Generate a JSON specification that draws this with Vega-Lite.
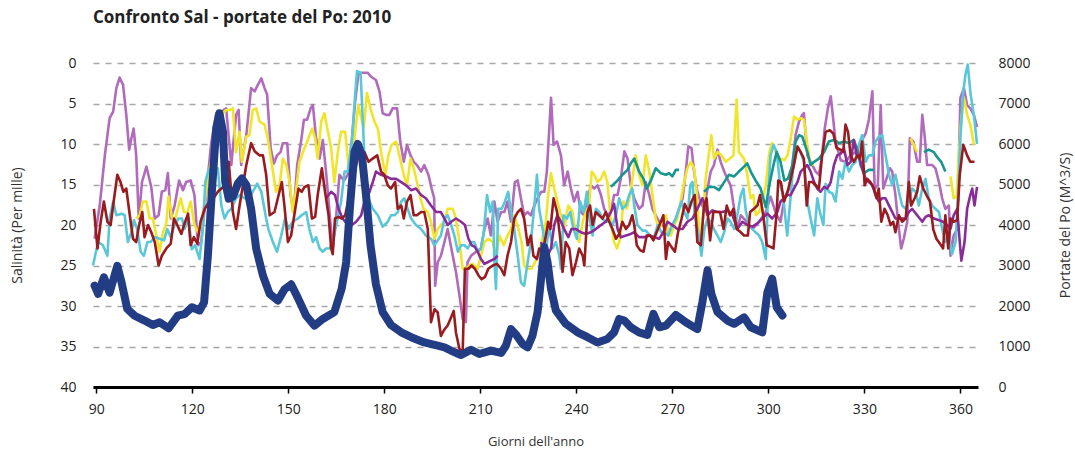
{
"$schema": "https://vega.github.io/schema/vega-lite/v6.json",
"width": 885, "height": 324,
"autosize": {"type": "none"},
"padding": {"left": 93, "top": 63, "right": 97, "bottom": 64},
"background": "white",
"config": {"view": {"stroke": null}, "font": "Open Sans"},
"title": {"text": "Confronto Sal - portate del Po: 2010", "anchor": "start", "frame": "group", "fontSize": 17, "fontWeight": "bold", "font": "Open Sans", "color": "#222222", "offset": 29},
"datasets": {
"sal": [
{"s":"L","d":89.5,"v":21.7},{"s":"L","d":91.1,"v":17.6},{"s":"L","d":92.7,"v":11.4},{"s":"L","d":94.2,"v":6.8},{"s":"L","d":95.3,"v":6.0},{"s":"L","d":96.3,"v":3.1},{"s":"L","d":97.3,"v":1.8},{"s":"L","d":98.4,"v":2.7},{"s":"L","d":99.4,"v":6.4},{"s":"L","d":100.3,"v":10.7},{"s":"L","d":101.0,"v":9.3},{"s":"L","d":101.7,"v":8.1},{"s":"L","d":102.5,"v":11.4},{"s":"L","d":103.3,"v":19.2},{"s":"L","d":104.3,"v":14.7},{"s":"L","d":105.7,"v":12.8},{"s":"L","d":107.2,"v":15.3},{"s":"L","d":108.3,"v":19.2},{"s":"L","d":109.5,"v":18.8},{"s":"L","d":110.5,"v":15.9},{"s":"L","d":111.6,"v":15.7},{"s":"L","d":112.4,"v":13.6},{"s":"L","d":113.3,"v":19.2},{"s":"L","d":114.5,"v":17.6},{"s":"L","d":115.9,"v":14.5},{"s":"L","d":117.1,"v":15.7},{"s":"L","d":118.1,"v":14.7},{"s":"L","d":119.5,"v":14.5},{"s":"L","d":120.7,"v":16.3},{"s":"L","d":121.8,"v":22.5},{"s":"L","d":122.8,"v":22.1},{"s":"L","d":124.4,"v":16},{"s":"L","d":125.9,"v":10},{"s":"L","d":127.5,"v":6.2},{"s":"L","d":129.1,"v":6.0},{"s":"L","d":130.6,"v":5.6},{"s":"L","d":132.2,"v":12.6},{"s":"L","d":133.7,"v":6.4},{"s":"L","d":134.5,"v":5.8},{"s":"L","d":135.3,"v":12.6},{"s":"L","d":136.9,"v":8.9},{"s":"L","d":138.4,"v":3.1},{"s":"L","d":139.5,"v":3.5},{"s":"L","d":140.5,"v":2.7},{"s":"L","d":141.6,"v":1.9},{"s":"L","d":142.6,"v":3.1},{"s":"L","d":143.4,"v":3.9},{"s":"L","d":144.5,"v":10.5},{"s":"L","d":145.5,"v":12.4},{"s":"L","d":146.5,"v":11.4},{"s":"L","d":147.6,"v":11.0},{"s":"L","d":148.3,"v":9.9},{"s":"L","d":149.7,"v":9.9},{"s":"L","d":150.7,"v":16.3},{"s":"L","d":151.7,"v":18.4},{"s":"L","d":152.8,"v":12.6},{"s":"L","d":154.0,"v":9.7},{"s":"L","d":154.9,"v":7.0},{"s":"L","d":155.9,"v":7.0},{"s":"L","d":157.0,"v":5.6},{"s":"L","d":157.7,"v":5.2},{"s":"L","d":158.7,"v":9.3},{"s":"L","d":159.8,"v":11.8},{"s":"L","d":160.8,"v":9.5},{"s":"L","d":161.8,"v":13.4},{"s":"L","d":162.9,"v":18.4},{"s":"L","d":163.9,"v":22.9},{"s":"L","d":165.0,"v":18.8},{"s":"L","d":166.0,"v":13.8},{"s":"L","d":167.4,"v":14.5},{"s":"L","d":168.6,"v":13.8},{"s":"L","d":169.9,"v":9.3},{"s":"L","d":170.9,"v":4.8},{"s":"L","d":171.9,"v":1.4},{"s":"L","d":173.0,"v":1.2},{"s":"L","d":173.8,"v":1.2},{"s":"L","d":174.8,"v":1.2},{"s":"L","d":175.9,"v":1.7},{"s":"L","d":177.4,"v":2.1},{"s":"L","d":178.5,"v":3.5},{"s":"L","d":179.5,"v":6.2},{"s":"L","d":180.6,"v":6.4},{"s":"L","d":181.6,"v":6.4},{"s":"L","d":182.6,"v":5.6},{"s":"L","d":184.0,"v":5.6},{"s":"L","d":185.0,"v":9.7},{"s":"L","d":186.1,"v":12.2},{"s":"L","d":187.1,"v":10.1},{"s":"L","d":188.2,"v":11.4},{"s":"L","d":189.2,"v":12.2},{"s":"L","d":190.2,"v":12.6},{"s":"L","d":191.5,"v":13.4},{"s":"L","d":192.5,"v":12.6},{"s":"L","d":193.8,"v":13.8},{"s":"L","d":194.8,"v":15.5},{"s":"L","d":195.6,"v":16.7},{"s":"L","d":195.9,"v":27.5},{"s":"L","d":196.7,"v":24.6},{"s":"L","d":197.7,"v":23.8},{"s":"L","d":198.8,"v":22.1},{"s":"L","d":199.8,"v":20.5},{"s":"L","d":201.4,"v":23.8},{"s":"L","d":202.4,"v":25.8},{"s":"L","d":203.5,"v":28.7},{"s":"L","d":204.5,"v":31.6},{"s":"L","d":205.5,"v":32.0},{"s":"L","d":206.0,"v":24.6},{"s":"L","d":207.1,"v":23.8},{"s":"L","d":208.7,"v":23.3},{"s":"L","d":210.2,"v":22.9},{"s":"L","d":211.3,"v":20.5},{"s":"L","d":212.3,"v":19.2},{"s":"L","d":213.3,"v":21.3},{"s":"L","d":214.4,"v":17.1},{"s":"L","d":215.4,"v":19.6},{"s":"L","d":216.5,"v":18.4},{"s":"L","d":217.5,"v":18.4},{"s":"L","d":218.5,"v":17.1},{"s":"L","d":219.6,"v":19.6},{"s":"L","d":220.8,"v":14.7},{"s":"L","d":221.7,"v":14.5},{"s":"L","d":222.7,"v":16.7},{"s":"L","d":223.7,"v":18.8},{"s":"L","d":224.8,"v":18.4},{"s":"L","d":225.8,"v":18.8},{"s":"L","d":226.9,"v":17.6},{"s":"L","d":227.9,"v":16.7},{"s":"L","d":229.0,"v":15.9},{"s":"L","d":230.0,"v":15.9},{"s":"L","d":230.8,"v":13.4},{"s":"L","d":231.5,"v":8.5},{"s":"L","d":232.1,"v":4.3},{"s":"L","d":232.9,"v":10.1},{"s":"L","d":234.0,"v":9.7},{"s":"L","d":235.2,"v":11.4},{"s":"L","d":236.2,"v":15.1},{"s":"L","d":237.3,"v":13.4},{"s":"L","d":238.3,"v":15.5},{"s":"L","d":239.3,"v":17.1},{"s":"L","d":240.4,"v":15.9},{"s":"L","d":241.4,"v":18.4},{"s":"L","d":242.5,"v":18.8},{"s":"L","d":243.5,"v":17.1},{"s":"L","d":244.5,"v":15.1},{"s":"L","d":245.6,"v":15.5},{"s":"L","d":246.6,"v":15.1},{"s":"L","d":247.7,"v":16.3},{"s":"L","d":248.7,"v":18.0},{"s":"L","d":249.7,"v":18.8},{"s":"L","d":250.8,"v":18.4},{"s":"L","d":251.8,"v":16.3},{"s":"L","d":252.9,"v":16.3},{"s":"L","d":253.9,"v":14.3},{"s":"L","d":255.0,"v":10.9},{"s":"L","d":256.0,"v":11.8},{"s":"L","d":257.0,"v":15.1},{"s":"L","d":258.1,"v":16.7},{"s":"L","d":259.6,"v":18.0},{"s":"L","d":260.7,"v":17.6},{"s":"L","d":261.7,"v":14.7},{"s":"L","d":262.8,"v":16.3},{"s":"L","d":263.8,"v":18.0},{"s":"L","d":264.8,"v":18.8},{"s":"L","d":265.9,"v":19.6},{"s":"L","d":267.0,"v":20.0},{"s":"L","d":268.0,"v":20.5},{"s":"L","d":269.0,"v":20.9},{"s":"L","d":270.0,"v":20.0},{"s":"L","d":271.1,"v":19.2},{"s":"L","d":272.1,"v":18.0},{"s":"L","d":273.2,"v":16.7},{"s":"L","d":274.2,"v":13.4},{"s":"L","d":275.0,"v":10.3},{"s":"L","d":276.0,"v":10.5},{"s":"L","d":276.8,"v":13.4},{"s":"L","d":277.6,"v":15.5},{"s":"L","d":278.7,"v":17.1},{"s":"L","d":279.9,"v":18.0},{"s":"L","d":281.0,"v":15.5},{"s":"L","d":282.0,"v":13.4},{"s":"L","d":283.0,"v":12.6},{"s":"L","d":284.1,"v":10.7},{"s":"L","d":285.1,"v":12.2},{"s":"L","d":286.2,"v":13.4},{"s":"L","d":287.2,"v":14.3},{"s":"L","d":288.2,"v":15.1},{"s":"L","d":289.3,"v":18.0},{"s":"L","d":290.3,"v":20.5},{"s":"L","d":291.4,"v":18.8},{"s":"L","d":293.0,"v":19.5},{"s":"L","d":295.0,"v":20.5},{"s":"L","d":297.1,"v":19.6},{"s":"L","d":299.2,"v":18.4},{"s":"L","d":300.7,"v":16.5},{"s":"L","d":302.3,"v":18.5},{"s":"L","d":303.8,"v":19.6},{"s":"L","d":305.0,"v":16.7},{"s":"L","d":306.5,"v":15.5},{"s":"L","d":307.5,"v":12.6},{"s":"L","d":308.5,"v":8.9},{"s":"L","d":309.6,"v":7.2},{"s":"L","d":310.6,"v":6.4},{"s":"L","d":311.1,"v":6.2},{"s":"L","d":312.2,"v":11.4},{"s":"L","d":313.2,"v":12.2},{"s":"L","d":314.8,"v":13.4},{"s":"L","d":315.8,"v":13.8},{"s":"L","d":316.8,"v":11.4},{"s":"L","d":317.6,"v":8.1},{"s":"L","d":318.6,"v":5.6},{"s":"L","d":319.5,"v":4.1},{"s":"L","d":321.0,"v":9.7},{"s":"L","d":322.6,"v":12.0},{"s":"L","d":324.1,"v":12.2},{"s":"L","d":325.7,"v":11.4},{"s":"L","d":327.3,"v":11.0},{"s":"L","d":328.8,"v":9.9},{"s":"L","d":330.4,"v":8.7},{"s":"L","d":331.4,"v":7.0},{"s":"L","d":332.5,"v":3.5},{"s":"L","d":333.2,"v":15.5},{"s":"L","d":334.2,"v":15.1},{"s":"L","d":335.1,"v":5.2},{"s":"L","d":335.9,"v":15.5},{"s":"L","d":336.9,"v":14.3},{"s":"L","d":338.0,"v":13.0},{"s":"L","d":338.7,"v":13.4},{"s":"L","d":339.7,"v":16.3},{"s":"L","d":340.8,"v":20.5},{"s":"L","d":341.5,"v":22.9},{"s":"L","d":342.3,"v":21.7},{"s":"L","d":343.4,"v":19.6},{"s":"L","d":344.2,"v":9.3},{"s":"L","d":345.3,"v":9.7},{"s":"L","d":346.5,"v":12.2},{"s":"L","d":347.3,"v":12.2},{"s":"L","d":348.1,"v":6.4},{"s":"L","d":348.8,"v":8.9},{"s":"L","d":349.6,"v":12.6},{"s":"L","d":351.2,"v":12.6},{"s":"L","d":352.2,"v":13.0},{"s":"L","d":353.3,"v":14.7},{"s":"L","d":354.3,"v":16.7},{"s":"L","d":355.3,"v":18.0},{"s":"L","d":356.4,"v":17.6},{"s":"L","d":356.9,"v":23.8},{"s":"L","d":357.9,"v":21.3},{"s":"L","d":359.0,"v":20.5},{"s":"L","d":360.0,"v":4.3},{"s":"L","d":361.1,"v":3.1},{"s":"L","d":362.1,"v":5.2},{"s":"L","d":363.1,"v":5.6},{"s":"L","d":364.2,"v":6.4},{"s":"L","d":365.2,"v":7.9},
{"s":"Y","d":102.5,"v":19.2},{"s":"Y","d":103.6,"v":18.8},{"s":"Y","d":104.6,"v":17.1},{"s":"Y","d":105.7,"v":17.1},{"s":"Y","d":106.7,"v":19.2},{"s":"Y","d":107.7,"v":19.2},{"s":"Y","d":108.8,"v":21.3},{"s":"Y","d":109.8,"v":23.3},{"s":"Y","d":110.9,"v":20.9},{"s":"Y","d":111.9,"v":19.8},{"s":"Y","d":112.6,"v":16.5},{"s":"Y","d":113.7,"v":19.2},{"s":"Y","d":114.7,"v":19.2},{"s":"Y","d":116.4,"v":16.7},{"s":"Y","d":117.4,"v":18.4},{"s":"Y","d":118.5,"v":18.4},{"s":"Y","d":119.5,"v":17.1},{"s":"Y","d":120.7,"v":20.0},{"s":"Y","d":121.8,"v":20.9},{"s":"Y","d":122.8,"v":20.0},{"s":"Y","d":123.9,"v":17.1},{"s":"Y","d":125.1,"v":13.8},{"s":"Y","d":126.5,"v":11.0},{"s":"Y","d":128.0,"v":8.0},{"s":"Y","d":129.6,"v":6.2},{"s":"Y","d":130.6,"v":5.8},{"s":"Y","d":131.7,"v":5.8},{"s":"Y","d":132.7,"v":5.6},{"s":"Y","d":133.7,"v":11.0},{"s":"Y","d":134.8,"v":8.5},{"s":"Y","d":135.5,"v":12.2},{"s":"Y","d":136.9,"v":9.1},{"s":"Y","d":137.9,"v":8.9},{"s":"Y","d":138.9,"v":5.8},{"s":"Y","d":140.0,"v":5.6},{"s":"Y","d":141.0,"v":7.2},{"s":"Y","d":142.6,"v":7.6},{"s":"Y","d":143.6,"v":9.3},{"s":"Y","d":144.9,"v":12.6},{"s":"Y","d":146.2,"v":15.9},{"s":"Y","d":147.3,"v":15.1},{"s":"Y","d":148.3,"v":11.8},{"s":"Y","d":149.4,"v":12.6},{"s":"Y","d":150.4,"v":14.7},{"s":"Y","d":151.4,"v":18.4},{"s":"Y","d":152.5,"v":15.5},{"s":"Y","d":153.5,"v":12.2},{"s":"Y","d":155.1,"v":10.5},{"s":"Y","d":156.3,"v":9.3},{"s":"Y","d":157.5,"v":8.1},{"s":"Y","d":158.4,"v":9.3},{"s":"Y","d":159.2,"v":11.8},{"s":"Y","d":160.3,"v":7.2},{"s":"Y","d":161.3,"v":6.2},{"s":"Y","d":162.4,"v":8.5},{"s":"Y","d":163.4,"v":10.5},{"s":"Y","d":164.4,"v":14.7},{"s":"Y","d":165.5,"v":11.0},{"s":"Y","d":166.5,"v":8.5},{"s":"Y","d":167.8,"v":8.5},{"s":"Y","d":168.8,"v":12.6},{"s":"Y","d":169.9,"v":13.4},{"s":"Y","d":170.9,"v":8.5},{"s":"Y","d":171.9,"v":5.2},{"s":"Y","d":172.8,"v":6.8},{"s":"Y","d":173.6,"v":8.0},{"s":"Y","d":174.6,"v":3.7},{"s":"Y","d":175.7,"v":5.6},{"s":"Y","d":176.9,"v":7.2},{"s":"Y","d":178.0,"v":8.1},{"s":"Y","d":179.0,"v":11.0},{"s":"Y","d":180.3,"v":13.8},{"s":"Y","d":181.3,"v":11.4},{"s":"Y","d":182.3,"v":10.1},{"s":"Y","d":183.7,"v":9.7},{"s":"Y","d":184.7,"v":11.4},{"s":"Y","d":186.1,"v":13.8},{"s":"Y","d":187.1,"v":15.1},{"s":"Y","d":188.2,"v":11.8},{"s":"Y","d":189.2,"v":13.0},{"s":"Y","d":190.2,"v":14.7},{"s":"Y","d":191.3,"v":16.7},{"s":"Y","d":192.3,"v":18.0},{"s":"Y","d":193.6,"v":18.4},{"s":"Y","d":194.6,"v":19.6},{"s":"Y","d":195.7,"v":21.7},{"s":"Y","d":196.7,"v":20.5},{"s":"Y","d":197.7,"v":20.0},{"s":"Y","d":198.8,"v":19.6},{"s":"Y","d":199.8,"v":18.0},{"s":"Y","d":201.4,"v":18.0},{"s":"Y","d":202.4,"v":19.2},{"s":"Y","d":203.5,"v":22.1},{"s":"Y","d":204.5,"v":25.4},{"s":"Y","d":205.5,"v":25.4},{"s":"Y","d":206.6,"v":25.0},{"s":"Y","d":207.6,"v":24.8},{"s":"Y","d":209.2,"v":25.4},{"s":"Y","d":210.2,"v":23.8},{"s":"Y","d":211.3,"v":22.1},{"s":"Y","d":212.5,"v":21.7},{"s":"Y","d":213.9,"v":22.1},{"s":"Y","d":214.9,"v":23.8},{"s":"Y","d":216.0,"v":21.3},{"s":"Y","d":217.3,"v":22.5},{"s":"Y","d":218.5,"v":21.3},{"s":"Y","d":219.6,"v":20.5},{"s":"Y","d":220.6,"v":18.8},{"s":"Y","d":221.9,"v":20.5},{"s":"Y","d":222.9,"v":22.1},{"s":"Y","d":223.7,"v":25.0},{"s":"Y","d":224.8,"v":25.4},{"s":"Y","d":226.0,"v":25.4},{"s":"Y","d":227.1,"v":24.6},{"s":"Y","d":228.1,"v":23.8},{"s":"Y","d":229.1,"v":22.1},{"s":"Y","d":230.5,"v":19.6},{"s":"Y","d":231.2,"v":16.3},{"s":"Y","d":232.1,"v":13.6},{"s":"Y","d":233.1,"v":15.5},{"s":"Y","d":234.1,"v":17.1},{"s":"Y","d":235.2,"v":18.8},{"s":"Y","d":236.2,"v":20.5},{"s":"Y","d":237.5,"v":17.6},{"s":"Y","d":238.8,"v":18.4},{"s":"Y","d":239.9,"v":21.3},{"s":"Y","d":240.9,"v":22.1},{"s":"Y","d":242.0,"v":19.6},{"s":"Y","d":243.0,"v":18.4},{"s":"Y","d":244.0,"v":17.6},{"s":"Y","d":244.8,"v":13.4},{"s":"Y","d":245.6,"v":13.8},{"s":"Y","d":246.6,"v":14.7},{"s":"Y","d":247.7,"v":14.3},{"s":"Y","d":248.7,"v":13.4},{"s":"Y","d":249.7,"v":14.7},{"s":"Y","d":250.8,"v":19.6},{"s":"Y","d":251.8,"v":22.1},{"s":"Y","d":252.7,"v":22.9},{"s":"Y","d":253.7,"v":21.7},{"s":"Y","d":254.7,"v":17.1},{"s":"Y","d":255.8,"v":18.0},{"s":"Y","d":256.8,"v":16.3},{"s":"Y","d":258.6,"v":11.4},{"s":"Y","d":259.6,"v":13.8},{"s":"Y","d":260.7,"v":15.1},{"s":"Y","d":261.7,"v":11.4},{"s":"Y","d":262.8,"v":13.4},{"s":"Y","d":263.8,"v":16.3},{"s":"Y","d":264.8,"v":19.2},{"s":"Y","d":265.9,"v":20.5},{"s":"Y","d":266.9,"v":19.6},{"s":"Y","d":268.0,"v":18.8},{"s":"Y","d":268.7,"v":20.9},{"s":"Y","d":269.5,"v":21.3},{"s":"Y","d":270.6,"v":20.0},{"s":"Y","d":271.6,"v":19.2},{"s":"Y","d":272.6,"v":17.1},{"s":"Y","d":273.7,"v":14.7},{"s":"Y","d":274.7,"v":13.0},{"s":"Y","d":275.8,"v":12.2},{"s":"Y","d":276.8,"v":13.0},{"s":"Y","d":277.6,"v":15.9},{"s":"Y","d":278.7,"v":22.1},{"s":"Y","d":279.4,"v":20.0},{"s":"Y","d":280.4,"v":14.3},{"s":"Y","d":281.5,"v":11.0},{"s":"Y","d":282.2,"v":8.9},{"s":"Y","d":283.0,"v":11.8},{"s":"Y","d":284.1,"v":11.0},{"s":"Y","d":285.3,"v":11.4},{"s":"Y","d":286.7,"v":12.2},{"s":"Y","d":288.0,"v":11.8},{"s":"Y","d":289.1,"v":11.4},{"s":"Y","d":290.1,"v":4.5},{"s":"Y","d":290.8,"v":11.0},{"s":"Y","d":292.4,"v":11.8},{"s":"Y","d":293.4,"v":13.8},{"s":"Y","d":294.5,"v":16.7},{"s":"Y","d":295.3,"v":16.3},{"s":"Y","d":296.1,"v":18.8},{"s":"Y","d":297.1,"v":18.4},{"s":"Y","d":298.1,"v":17.1},{"s":"Y","d":299.2,"v":15.1},{"s":"Y","d":300.3,"v":11.0},{"s":"Y","d":301.2,"v":9.9},{"s":"Y","d":302.3,"v":11.0},{"s":"Y","d":303.6,"v":11.8},{"s":"Y","d":305.0,"v":12.0},{"s":"Y","d":306.0,"v":11.4},{"s":"Y","d":307.0,"v":9.3},{"s":"Y","d":308.0,"v":6.6},{"s":"Y","d":309.1,"v":7.0},{"s":"Y","d":310.1,"v":6.8},{"s":"Y","d":311.1,"v":7.0},{"s":"Y","d":312.2,"v":10.1},{"s":"Y","d":313.2,"v":12.6},{"s":"Y","d":314.3,"v":12.5},{"s":"Y","d":315.0,"v":null},{"s":"Y","d":344.4,"v":9.3},{"s":"Y","d":346.5,"v":11.0},{"s":"Y","d":347.0,"v":null},{"s":"Y","d":356.9,"v":14.0},{"s":"Y","d":357.9,"v":16.7},{"s":"Y","d":358.8,"v":16.5},{"s":"Y","d":359.5,"v":11.4},{"s":"Y","d":360.2,"v":7.2},{"s":"Y","d":361.1,"v":4.3},{"s":"Y","d":362.1,"v":6.4},{"s":"Y","d":363.1,"v":7.6},{"s":"Y","d":364.2,"v":10.1},
{"s":"C","d":89.0,"v":25.0},{"s":"C","d":90.6,"v":22.1},{"s":"C","d":92.1,"v":22.5},{"s":"C","d":93.5,"v":23.8},{"s":"C","d":94.2,"v":19.2},{"s":"C","d":95.3,"v":17.1},{"s":"C","d":96.3,"v":18.8},{"s":"C","d":97.9,"v":18.6},{"s":"C","d":98.9,"v":18.8},{"s":"C","d":99.9,"v":22.1},{"s":"C","d":101.0,"v":20.9},{"s":"C","d":101.8,"v":19.4},{"s":"C","d":102.8,"v":20.5},{"s":"C","d":103.9,"v":23.3},{"s":"C","d":104.9,"v":23.8},{"s":"C","d":106.0,"v":22.1},{"s":"C","d":107.0,"v":22.1},{"s":"C","d":108.3,"v":21.5},{"s":"C","d":109.8,"v":21.7},{"s":"C","d":111.2,"v":21.9},{"s":"C","d":112.2,"v":20.5},{"s":"C","d":113.3,"v":21.5},{"s":"C","d":114.5,"v":20.0},{"s":"C","d":115.7,"v":19.2},{"s":"C","d":116.8,"v":19.2},{"s":"C","d":117.6,"v":20.5},{"s":"C","d":118.9,"v":19.2},{"s":"C","d":119.9,"v":23.0},{"s":"C","d":120.9,"v":22.5},{"s":"C","d":122.3,"v":24.2},{"s":"C","d":123.3,"v":20.5},{"s":"C","d":124.1,"v":14.7},{"s":"C","d":125.1,"v":13.2},{"s":"C","d":126.5,"v":13.0},{"s":"C","d":128.0,"v":13.0},{"s":"C","d":129.1,"v":17.6},{"s":"C","d":130.1,"v":19.2},{"s":"C","d":131.1,"v":18.4},{"s":"C","d":132.2,"v":18.0},{"s":"C","d":133.7,"v":16.7},{"s":"C","d":134.8,"v":16.3},{"s":"C","d":136.3,"v":16.7},{"s":"C","d":137.9,"v":16.7},{"s":"C","d":138.9,"v":15.9},{"s":"C","d":140.3,"v":14.9},{"s":"C","d":141.6,"v":15.9},{"s":"C","d":143.1,"v":19.2},{"s":"C","d":143.8,"v":20.5},{"s":"C","d":145.2,"v":22.1},{"s":"C","d":146.5,"v":23.3},{"s":"C","d":147.8,"v":21.3},{"s":"C","d":149.0,"v":19.2},{"s":"C","d":150.1,"v":20.5},{"s":"C","d":151.4,"v":19.6},{"s":"C","d":153.0,"v":19.2},{"s":"C","d":154.2,"v":18.8},{"s":"C","d":155.6,"v":18.4},{"s":"C","d":156.6,"v":20.5},{"s":"C","d":157.7,"v":22.1},{"s":"C","d":158.7,"v":21.5},{"s":"C","d":159.8,"v":22.9},{"s":"C","d":160.8,"v":23.3},{"s":"C","d":161.8,"v":22.9},{"s":"C","d":162.9,"v":22.9},{"s":"C","d":163.9,"v":22.1},{"s":"C","d":165.0,"v":20.0},{"s":"C","d":166.5,"v":17.1},{"s":"C","d":167.6,"v":13.4},{"s":"C","d":168.6,"v":13.4},{"s":"C","d":169.9,"v":9.7},{"s":"C","d":170.9,"v":3.9},{"s":"C","d":171.5,"v":1.0},{"s":"C","d":172.6,"v":1.2},{"s":"C","d":173.3,"v":7.2},{"s":"C","d":174.0,"v":13.4},{"s":"C","d":175.0,"v":16.7},{"s":"C","d":176.4,"v":18.0},{"s":"C","d":178.0,"v":18.8},{"s":"C","d":179.5,"v":20.2},{"s":"C","d":181.1,"v":19.6},{"s":"C","d":182.1,"v":18.8},{"s":"C","d":183.2,"v":18.8},{"s":"C","d":184.2,"v":18.4},{"s":"C","d":185.3,"v":17.1},{"s":"C","d":186.3,"v":16.7},{"s":"C","d":187.3,"v":18.0},{"s":"C","d":188.4,"v":19.2},{"s":"C","d":189.9,"v":20.0},{"s":"C","d":191.5,"v":20.5},{"s":"C","d":193.0,"v":21.3},{"s":"C","d":194.6,"v":21.7},{"s":"C","d":195.6,"v":22.5},{"s":"C","d":196.7,"v":21.9},{"s":"C","d":197.7,"v":21.3},{"s":"C","d":198.8,"v":19.2},{"s":"C","d":199.8,"v":18.8},{"s":"C","d":200.9,"v":20.0},{"s":"C","d":201.9,"v":21.3},{"s":"C","d":203.0,"v":23.3},{"s":"C","d":204.0,"v":22.5},{"s":"C","d":205.0,"v":22.5},{"s":"C","d":206.1,"v":22.9},{"s":"C","d":207.1,"v":22.1},{"s":"C","d":208.1,"v":22.1},{"s":"C","d":209.2,"v":23.3},{"s":"C","d":210.2,"v":22.9},{"s":"C","d":211.1,"v":20.9},{"s":"C","d":212.1,"v":16.3},{"s":"C","d":213.1,"v":18.4},{"s":"C","d":213.9,"v":17.1},{"s":"C","d":214.4,"v":24.2},{"s":"C","d":214.9,"v":27.9},{"s":"C","d":215.6,"v":18.0},{"s":"C","d":216.7,"v":18.0},{"s":"C","d":217.7,"v":17.1},{"s":"C","d":218.7,"v":15.9},{"s":"C","d":219.6,"v":18.4},{"s":"C","d":220.6,"v":20.5},{"s":"C","d":221.7,"v":23.8},{"s":"C","d":222.7,"v":27.1},{"s":"C","d":223.7,"v":27.5},{"s":"C","d":224.8,"v":24.6},{"s":"C","d":225.8,"v":22.1},{"s":"C","d":226.9,"v":17.6},{"s":"C","d":227.7,"v":13.8},{"s":"C","d":228.4,"v":18.0},{"s":"C","d":229.5,"v":20.5},{"s":"C","d":230.5,"v":23.3},{"s":"C","d":231.5,"v":20.0},{"s":"C","d":232.6,"v":22.9},{"s":"C","d":233.6,"v":22.1},{"s":"C","d":234.7,"v":23.8},{"s":"C","d":235.2,"v":25.4},{"s":"C","d":236.0,"v":18.8},{"s":"C","d":237.1,"v":19.2},{"s":"C","d":238.1,"v":18.4},{"s":"C","d":239.1,"v":20.5},{"s":"C","d":240.2,"v":21.7},{"s":"C","d":241.2,"v":17.1},{"s":"C","d":242.3,"v":18.4},{"s":"C","d":243.3,"v":15.9},{"s":"C","d":244.0,"v":18.8},{"s":"C","d":245.1,"v":21.3},{"s":"C","d":246.1,"v":18.0},{"s":"C","d":247.2,"v":18.4},{"s":"C","d":248.2,"v":19.2},{"s":"C","d":249.2,"v":19.6},{"s":"C","d":250.3,"v":19.6},{"s":"C","d":251.3,"v":20.0},{"s":"C","d":252.4,"v":18.8},{"s":"C","d":253.4,"v":16.7},{"s":"C","d":254.4,"v":18.0},{"s":"C","d":255.5,"v":17.6},{"s":"C","d":256.5,"v":16.3},{"s":"C","d":257.5,"v":15.5},{"s":"C","d":258.1,"v":17.6},{"s":"C","d":259.1,"v":20.0},{"s":"C","d":260.7,"v":20.7},{"s":"C","d":261.7,"v":20.7},{"s":"C","d":263.1,"v":21.3},{"s":"C","d":264.3,"v":21.5},{"s":"C","d":265.4,"v":20.0},{"s":"C","d":266.6,"v":20.9},{"s":"C","d":267.6,"v":20.9},{"s":"C","d":268.7,"v":21.3},{"s":"C","d":270.0,"v":20.0},{"s":"C","d":271.1,"v":19.2},{"s":"C","d":272.1,"v":18.0},{"s":"C","d":272.8,"v":17.1},{"s":"C","d":273.7,"v":18.4},{"s":"C","d":274.7,"v":19.2},{"s":"C","d":275.6,"v":15.1},{"s":"C","d":276.3,"v":14.7},{"s":"C","d":277.0,"v":18.8},{"s":"C","d":278.1,"v":20.9},{"s":"C","d":279.1,"v":23.8},{"s":"C","d":280.0,"v":20.5},{"s":"C","d":281.0,"v":19.2},{"s":"C","d":282.0,"v":19.6},{"s":"C","d":283.0,"v":20.5},{"s":"C","d":284.1,"v":21.3},{"s":"C","d":285.1,"v":22.1},{"s":"C","d":286.2,"v":20.9},{"s":"C","d":287.2,"v":19.2},{"s":"C","d":288.2,"v":19.6},{"s":"C","d":289.3,"v":20.5},{"s":"C","d":290.3,"v":18.8},{"s":"C","d":291.4,"v":16.3},{"s":"C","d":292.2,"v":15.5},{"s":"C","d":293.0,"v":18.4},{"s":"C","d":294.0,"v":20.0},{"s":"C","d":295.0,"v":20.5},{"s":"C","d":296.0,"v":20.9},{"s":"C","d":297.1,"v":21.3},{"s":"C","d":298.1,"v":22.1},{"s":"C","d":299.2,"v":24.2},{"s":"C","d":299.9,"v":16.3},{"s":"C","d":300.7,"v":11.4},{"s":"C","d":301.6,"v":10.1},{"s":"C","d":302.6,"v":11.0},{"s":"C","d":303.6,"v":14.7},{"s":"C","d":304.7,"v":16.7},{"s":"C","d":305.9,"v":21.3},{"s":"C","d":307.0,"v":16.3},{"s":"C","d":308.0,"v":11.8},{"s":"C","d":309.1,"v":10.5},{"s":"C","d":310.1,"v":11.0},{"s":"C","d":311.1,"v":12.2},{"s":"C","d":312.2,"v":17.1},{"s":"C","d":313.2,"v":19.2},{"s":"C","d":314.3,"v":21.3},{"s":"C","d":315.3,"v":16.7},{"s":"C","d":316.1,"v":18.4},{"s":"C","d":317.2,"v":20.0},{"s":"C","d":317.9,"v":14.9},{"s":"C","d":318.9,"v":15.9},{"s":"C","d":320.0,"v":16.1},{"s":"C","d":321.0,"v":17.1},{"s":"C","d":322.1,"v":13.4},{"s":"C","d":323.1,"v":14.3},{"s":"C","d":324.1,"v":12.2},{"s":"C","d":325.2,"v":13.4},{"s":"C","d":326.2,"v":12.6},{"s":"C","d":327.3,"v":12.2},{"s":"C","d":328.3,"v":10.1},{"s":"C","d":329.3,"v":8.9},{"s":"C","d":330.4,"v":12.2},{"s":"C","d":331.4,"v":11.4},{"s":"C","d":332.5,"v":11.4},{"s":"C","d":333.5,"v":9.7},{"s":"C","d":334.5,"v":9.1},{"s":"C","d":335.6,"v":8.9},{"s":"C","d":336.6,"v":11.4},{"s":"C","d":337.7,"v":13.8},{"s":"C","d":338.7,"v":15.1},{"s":"C","d":339.7,"v":13.8},{"s":"C","d":340.8,"v":15.9},{"s":"C","d":341.8,"v":17.6},{"s":"C","d":342.9,"v":18.0},{"s":"C","d":343.9,"v":17.1},{"s":"C","d":344.9,"v":15.5},{"s":"C","d":346.0,"v":15.9},{"s":"C","d":347.0,"v":17.6},{"s":"C","d":348.1,"v":15.5},{"s":"C","d":349.1,"v":14.3},{"s":"C","d":350.1,"v":16.7},{"s":"C","d":351.2,"v":17.6},{"s":"C","d":352.2,"v":18.0},{"s":"C","d":353.3,"v":18.4},{"s":"C","d":354.3,"v":20.5},{"s":"C","d":355.3,"v":22.1},{"s":"C","d":356.4,"v":21.3},{"s":"C","d":357.4,"v":23.6},{"s":"C","d":358.5,"v":22.1},{"s":"C","d":359.2,"v":17.1},{"s":"C","d":360.0,"v":9.3},{"s":"C","d":360.9,"v":3.5},{"s":"C","d":361.6,"v":1.4},{"s":"C","d":362.3,"v":0.2},{"s":"C","d":363.2,"v":3.9},{"s":"C","d":364.2,"v":6.4},{"s":"C","d":365.2,"v":10.0},
{"s":"T","d":250.8,"v":15.3},{"s":"T","d":252.9,"v":14.5},{"s":"T","d":254.4,"v":13.8},{"s":"T","d":256.0,"v":13.2},{"s":"T","d":257.0,"v":12.4},{"s":"T","d":258.1,"v":11.8},{"s":"T","d":259.6,"v":13.4},{"s":"T","d":261.0,"v":14.3},{"s":"T","d":262.0,"v":15.5},{"s":"T","d":263.3,"v":14.5},{"s":"T","d":264.8,"v":13.0},{"s":"T","d":266.4,"v":13.6},{"s":"T","d":268.0,"v":13.8},{"s":"T","d":269.0,"v":13.6},{"s":"T","d":270.0,"v":14.0},{"s":"T","d":271.1,"v":13.2},{"s":"T","d":272.1,"v":13.2},{"s":"T","d":273.0,"v":null},{"s":"T","d":279.9,"v":15.9},{"s":"T","d":281.5,"v":15.3},{"s":"T","d":283.0,"v":15.3},{"s":"T","d":284.6,"v":15.7},{"s":"T","d":286.2,"v":14.7},{"s":"T","d":287.7,"v":13.8},{"s":"T","d":289.3,"v":14.0},{"s":"T","d":290.8,"v":13.4},{"s":"T","d":292.4,"v":12.8},{"s":"T","d":293.4,"v":12.4},{"s":"T","d":294.5,"v":13.4},{"s":"T","d":296.0,"v":14.5},{"s":"T","d":297.6,"v":15.5},{"s":"T","d":299.2,"v":17.8},{"s":"T","d":300.3,"v":15.1},{"s":"T","d":301.6,"v":12.6},{"s":"T","d":302.6,"v":11.0},{"s":"T","d":303.8,"v":12.2},{"s":"T","d":305.0,"v":14.5},{"s":"T","d":306.1,"v":14.3},{"s":"T","d":307.5,"v":12.6},{"s":"T","d":308.5,"v":9.7},{"s":"T","d":309.6,"v":8.9},{"s":"T","d":310.6,"v":9.1},{"s":"T","d":312.2,"v":11.0},{"s":"T","d":313.2,"v":12.6},{"s":"T","d":314.3,"v":12.2},{"s":"T","d":315.8,"v":11.8},{"s":"T","d":317.4,"v":11.0},{"s":"T","d":318.9,"v":9.7},{"s":"T","d":320.5,"v":9.5},{"s":"T","d":322.1,"v":9.9},{"s":"T","d":323.6,"v":9.7},{"s":"T","d":325.2,"v":9.9},{"s":"T","d":326.7,"v":9.5},{"s":"T","d":327.8,"v":10.7},{"s":"T","d":328.8,"v":12.6},{"s":"T","d":329.9,"v":13.6},{"s":"T","d":331.4,"v":13.2},{"s":"T","d":333.0,"v":13.2},{"s":"T","d":334.0,"v":null},{"s":"T","d":348.6,"v":11.0},{"s":"T","d":350.1,"v":10.7},{"s":"T","d":351.7,"v":11.0},{"s":"T","d":352.7,"v":11.6},{"s":"T","d":354.0,"v":12.2},{"s":"T","d":355.3,"v":13.4},
{"s":"P","d":161.8,"v":16.7},{"s":"P","d":163.4,"v":15.9},{"s":"P","d":164.6,"v":16.3},{"s":"P","d":165.7,"v":18.0},{"s":"P","d":167.0,"v":19.2},{"s":"P","d":168.6,"v":20.0},{"s":"P","d":169.9,"v":20.0},{"s":"P","d":171.2,"v":19.6},{"s":"P","d":172.8,"v":18.8},{"s":"P","d":173.8,"v":17.1},{"s":"P","d":175.4,"v":15.9},{"s":"P","d":176.4,"v":14.7},{"s":"P","d":177.4,"v":13.4},{"s":"P","d":179.0,"v":13.8},{"s":"P","d":180.6,"v":14.0},{"s":"P","d":182.1,"v":14.3},{"s":"P","d":183.7,"v":14.3},{"s":"P","d":185.3,"v":14.7},{"s":"P","d":186.8,"v":15.1},{"s":"P","d":188.4,"v":15.7},{"s":"P","d":189.9,"v":15.5},{"s":"P","d":191.5,"v":16.3},{"s":"P","d":193.0,"v":16.7},{"s":"P","d":194.6,"v":17.6},{"s":"P","d":196.2,"v":18.4},{"s":"P","d":197.7,"v":18.4},{"s":"P","d":198.8,"v":19.2},{"s":"P","d":199.8,"v":20.0},{"s":"P","d":200.9,"v":19.6},{"s":"P","d":202.4,"v":19.2},{"s":"P","d":204.0,"v":19.6},{"s":"P","d":205.2,"v":20.0},{"s":"P","d":206.3,"v":21.7},{"s":"P","d":207.3,"v":22.5},{"s":"P","d":208.3,"v":22.7},{"s":"P","d":209.2,"v":23.3},{"s":"P","d":210.2,"v":24.2},{"s":"P","d":211.3,"v":24.8},{"s":"P","d":212.3,"v":24.6},{"s":"P","d":213.3,"v":24.4},{"s":"P","d":214.4,"v":24.2},{"s":"P","d":215.4,"v":23.8},{"s":"P","d":216.3,"v":null},{"s":"P","d":229.0,"v":22.1},{"s":"P","d":230.0,"v":23.8},{"s":"P","d":231.0,"v":23.8},{"s":"P","d":232.1,"v":22.9},{"s":"P","d":233.1,"v":20.0},{"s":"P","d":234.1,"v":18.8},{"s":"P","d":235.2,"v":19.6},{"s":"P","d":236.2,"v":20.5},{"s":"P","d":237.5,"v":21.5},{"s":"P","d":238.5,"v":20.5},{"s":"P","d":239.9,"v":20.5},{"s":"P","d":241.4,"v":20.9},{"s":"P","d":243.0,"v":21.1},{"s":"P","d":244.5,"v":20.9},{"s":"P","d":246.1,"v":20.5},{"s":"P","d":247.7,"v":20.0},{"s":"P","d":249.2,"v":19.6},{"s":"P","d":250.8,"v":18.4},{"s":"P","d":251.8,"v":17.4},{"s":"P","d":252.9,"v":20.5},{"s":"P","d":253.9,"v":21.5},{"s":"P","d":255.5,"v":21.3},{"s":"P","d":257.0,"v":21.1},{"s":"P","d":258.1,"v":20.9},{"s":"P","d":259.6,"v":21.5},{"s":"P","d":261.2,"v":21.5},{"s":"P","d":262.8,"v":21.3},{"s":"P","d":264.3,"v":21.5},{"s":"P","d":265.9,"v":21.7},{"s":"P","d":267.2,"v":20.9},{"s":"P","d":268.5,"v":19.6},{"s":"P","d":270.0,"v":20.0},{"s":"P","d":271.6,"v":20.5},{"s":"P","d":273.2,"v":20.5},{"s":"P","d":274.7,"v":19.6},{"s":"P","d":276.3,"v":19.2},{"s":"P","d":277.8,"v":18.0},{"s":"P","d":279.4,"v":16.7},{"s":"P","d":281.0,"v":18.8},{"s":"P","d":282.5,"v":18.2},{"s":"P","d":284.1,"v":18.4},{"s":"P","d":285.6,"v":18.4},{"s":"P","d":287.2,"v":18.2},{"s":"P","d":288.8,"v":18.8},{"s":"P","d":290.3,"v":20.5},{"s":"P","d":291.9,"v":19.6},{"s":"P","d":293.4,"v":20.0},{"s":"P","d":295.0,"v":20.2},{"s":"P","d":296.6,"v":19.8},{"s":"P","d":298.1,"v":19.2},{"s":"P","d":299.7,"v":18.6},{"s":"P","d":301.2,"v":19.2},{"s":"P","d":302.8,"v":18.4},{"s":"P","d":303.8,"v":17.1},{"s":"P","d":304.9,"v":16.7},{"s":"P","d":306.0,"v":16.3},{"s":"P","d":307.0,"v":16.3},{"s":"P","d":308.0,"v":15.5},{"s":"P","d":309.1,"v":14.7},{"s":"P","d":310.1,"v":13.4},{"s":"P","d":311.1,"v":13.0},{"s":"P","d":312.2,"v":12.6},{"s":"P","d":313.2,"v":13.4},{"s":"P","d":314.3,"v":14.7},{"s":"P","d":315.3,"v":15.5},{"s":"P","d":316.3,"v":15.9},{"s":"P","d":317.4,"v":15.3},{"s":"P","d":318.4,"v":15.5},{"s":"P","d":319.5,"v":14.7},{"s":"P","d":320.5,"v":12.6},{"s":"P","d":321.5,"v":11.4},{"s":"P","d":322.6,"v":11.2},{"s":"P","d":323.6,"v":10.5},{"s":"P","d":324.7,"v":12.6},{"s":"P","d":325.7,"v":12.2},{"s":"P","d":326.7,"v":9.5},{"s":"P","d":327.6,"v":11.4},{"s":"P","d":328.3,"v":11.4},{"s":"P","d":329.3,"v":13.0},{"s":"P","d":330.4,"v":14.3},{"s":"P","d":331.4,"v":14.7},{"s":"P","d":332.5,"v":15.1},{"s":"P","d":333.5,"v":16.3},{"s":"P","d":334.5,"v":17.1},{"s":"P","d":335.6,"v":16.7},{"s":"P","d":336.6,"v":16.7},{"s":"P","d":337.7,"v":17.6},{"s":"P","d":338.7,"v":18.4},{"s":"P","d":339.7,"v":19.2},{"s":"P","d":341.3,"v":19.2},{"s":"P","d":342.9,"v":19.2},{"s":"P","d":343.9,"v":18.4},{"s":"P","d":344.9,"v":18.0},{"s":"P","d":346.5,"v":18.8},{"s":"P","d":348.1,"v":19.6},{"s":"P","d":349.1,"v":19.0},{"s":"P","d":350.1,"v":18.8},{"s":"P","d":351.7,"v":19.2},{"s":"P","d":353.3,"v":19.4},{"s":"P","d":354.6,"v":19.6},{"s":"P","d":355.9,"v":20.0},{"s":"P","d":356.9,"v":20.5},{"s":"P","d":357.9,"v":18.8},{"s":"P","d":359.0,"v":18.0},{"s":"P","d":359.8,"v":22.1},{"s":"P","d":360.3,"v":24.4},{"s":"P","d":361.3,"v":22.1},{"s":"P","d":362.1,"v":18.0},{"s":"P","d":363.1,"v":16.3},{"s":"P","d":363.7,"v":15.5},{"s":"P","d":364.4,"v":17.6},{"s":"P","d":365.2,"v":15.3},
{"s":"R","d":89.3,"v":18.0},{"s":"R","d":90.4,"v":22.9},{"s":"R","d":91.4,"v":19.6},{"s":"R","d":92.4,"v":17.1},{"s":"R","d":93.5,"v":19.6},{"s":"R","d":94.5,"v":20.0},{"s":"R","d":95.6,"v":16.7},{"s":"R","d":96.6,"v":13.8},{"s":"R","d":97.6,"v":14.7},{"s":"R","d":98.5,"v":15.9},{"s":"R","d":99.4,"v":15.5},{"s":"R","d":100.5,"v":18.8},{"s":"R","d":101.5,"v":21.7},{"s":"R","d":102.5,"v":22.1},{"s":"R","d":103.4,"v":20.0},{"s":"R","d":104.4,"v":18.4},{"s":"R","d":105.1,"v":21.5},{"s":"R","d":106.2,"v":20.0},{"s":"R","d":107.2,"v":20.9},{"s":"R","d":108.3,"v":22.1},{"s":"R","d":109.5,"v":25.0},{"s":"R","d":110.5,"v":23.8},{"s":"R","d":111.9,"v":22.9},{"s":"R","d":113.3,"v":22.3},{"s":"R","d":114.3,"v":19.2},{"s":"R","d":115.3,"v":20.0},{"s":"R","d":116.6,"v":21.1},{"s":"R","d":117.6,"v":19.8},{"s":"R","d":118.7,"v":18.6},{"s":"R","d":119.5,"v":22.5},{"s":"R","d":120.5,"v":21.5},{"s":"R","d":121.6,"v":22.3},{"s":"R","d":122.6,"v":19.6},{"s":"R","d":123.9,"v":18.0},{"s":"R","d":125.4,"v":17.1},{"s":"R","d":127.0,"v":16.5},{"s":"R","d":128.0,"v":15.9},{"s":"R","d":129.1,"v":15.5},{"s":"R","d":130.1,"v":15.1},{"s":"R","d":131.4,"v":12.2},{"s":"R","d":132.7,"v":18.4},{"s":"R","d":133.7,"v":20.5},{"s":"R","d":134.8,"v":17.6},{"s":"R","d":135.5,"v":15.9},{"s":"R","d":136.9,"v":12.6},{"s":"R","d":138.4,"v":9.9},{"s":"R","d":139.5,"v":10.9},{"s":"R","d":141.0,"v":11.4},{"s":"R","d":142.1,"v":11.4},{"s":"R","d":143.1,"v":13.8},{"s":"R","d":144.2,"v":18.8},{"s":"R","d":145.7,"v":18.4},{"s":"R","d":147.0,"v":16.3},{"s":"R","d":148.0,"v":14.7},{"s":"R","d":148.8,"v":17.6},{"s":"R","d":149.9,"v":22.1},{"s":"R","d":150.9,"v":21.3},{"s":"R","d":152.2,"v":18.0},{"s":"R","d":153.2,"v":15.5},{"s":"R","d":154.2,"v":15.9},{"s":"R","d":155.1,"v":15.3},{"s":"R","d":156.3,"v":15.1},{"s":"R","d":157.4,"v":19.2},{"s":"R","d":158.4,"v":19.0},{"s":"R","d":159.2,"v":16.3},{"s":"R","d":160.5,"v":13.0},{"s":"R","d":161.5,"v":15.9},{"s":"R","d":162.6,"v":18.8},{"s":"R","d":163.4,"v":22.9},{"s":"R","d":163.9,"v":23.6},{"s":"R","d":164.6,"v":19.2},{"s":"R","d":165.7,"v":19.0},{"s":"R","d":166.7,"v":19.2},{"s":"R","d":167.8,"v":18.8},{"s":"R","d":169.1,"v":16.3},{"s":"R","d":170.5,"v":13.8},{"s":"R","d":171.7,"v":11.8},{"s":"R","d":172.8,"v":11.4},{"s":"R","d":173.8,"v":11.0},{"s":"R","d":175.1,"v":12.2},{"s":"R","d":176.4,"v":11.8},{"s":"R","d":177.8,"v":11.4},{"s":"R","d":179.0,"v":13.4},{"s":"R","d":180.0,"v":13.8},{"s":"R","d":181.1,"v":15.1},{"s":"R","d":182.1,"v":15.5},{"s":"R","d":183.4,"v":14.7},{"s":"R","d":184.2,"v":18.0},{"s":"R","d":185.3,"v":17.6},{"s":"R","d":186.1,"v":19.2},{"s":"R","d":187.1,"v":17.1},{"s":"R","d":188.2,"v":16.3},{"s":"R","d":189.2,"v":18.8},{"s":"R","d":190.2,"v":18.8},{"s":"R","d":191.5,"v":18.4},{"s":"R","d":192.5,"v":18.4},{"s":"R","d":193.6,"v":20.5},{"s":"R","d":194.6,"v":32.0},{"s":"R","d":195.7,"v":30.4},{"s":"R","d":196.7,"v":30.8},{"s":"R","d":197.7,"v":33.7},{"s":"R","d":198.8,"v":32.9},{"s":"R","d":199.8,"v":32.4},{"s":"R","d":200.9,"v":31.4},{"s":"R","d":201.7,"v":30.6},{"s":"R","d":202.4,"v":33.3},{"s":"R","d":203.5,"v":35.3},{"s":"R","d":204.5,"v":35.7},{"s":"R","d":205.2,"v":25.4},{"s":"R","d":206.3,"v":25.4},{"s":"R","d":207.3,"v":25.0},{"s":"R","d":208.3,"v":25.4},{"s":"R","d":209.4,"v":26.2},{"s":"R","d":210.4,"v":26.7},{"s":"R","d":211.5,"v":26.4},{"s":"R","d":212.5,"v":25.4},{"s":"R","d":213.9,"v":25.0},{"s":"R","d":215.2,"v":24.8},{"s":"R","d":216.5,"v":25.4},{"s":"R","d":217.5,"v":26.2},{"s":"R","d":218.5,"v":23.8},{"s":"R","d":219.6,"v":22.1},{"s":"R","d":220.6,"v":19.2},{"s":"R","d":221.7,"v":18.4},{"s":"R","d":222.7,"v":18.0},{"s":"R","d":223.7,"v":19.2},{"s":"R","d":224.8,"v":22.5},{"s":"R","d":225.8,"v":21.3},{"s":"R","d":226.6,"v":23.8},{"s":"R","d":227.7,"v":24.2},{"s":"R","d":228.4,"v":22.9},{"s":"R","d":229.5,"v":23.3},{"s":"R","d":230.5,"v":21.3},{"s":"R","d":231.2,"v":19.6},{"s":"R","d":231.9,"v":20.5},{"s":"R","d":232.9,"v":16.7},{"s":"R","d":234.0,"v":18.4},{"s":"R","d":235.0,"v":21.7},{"s":"R","d":235.7,"v":25.8},{"s":"R","d":236.7,"v":22.1},{"s":"R","d":237.8,"v":22.9},{"s":"R","d":238.8,"v":26.2},{"s":"R","d":239.9,"v":24.6},{"s":"R","d":240.9,"v":22.9},{"s":"R","d":242.0,"v":23.8},{"s":"R","d":242.5,"v":25.0},{"s":"R","d":243.5,"v":18.4},{"s":"R","d":244.3,"v":17.6},{"s":"R","d":245.1,"v":20.0},{"s":"R","d":246.1,"v":18.4},{"s":"R","d":247.1,"v":18.8},{"s":"R","d":248.2,"v":19.2},{"s":"R","d":249.2,"v":18.4},{"s":"R","d":250.3,"v":19.6},{"s":"R","d":251.3,"v":20.5},{"s":"R","d":252.4,"v":21.7},{"s":"R","d":253.4,"v":21.1},{"s":"R","d":254.4,"v":19.6},{"s":"R","d":255.5,"v":20.5},{"s":"R","d":256.5,"v":20.0},{"s":"R","d":257.5,"v":18.8},{"s":"R","d":258.1,"v":20.0},{"s":"R","d":258.9,"v":22.5},{"s":"R","d":259.9,"v":23.1},{"s":"R","d":261.0,"v":23.3},{"s":"R","d":262.0,"v":21.3},{"s":"R","d":263.1,"v":21.3},{"s":"R","d":264.1,"v":21.9},{"s":"R","d":265.1,"v":20.9},{"s":"R","d":266.2,"v":19.8},{"s":"R","d":267.2,"v":18.8},{"s":"R","d":268.0,"v":24.2},{"s":"R","d":268.7,"v":22.1},{"s":"R","d":269.7,"v":22.7},{"s":"R","d":270.8,"v":23.3},{"s":"R","d":271.8,"v":20.9},{"s":"R","d":272.9,"v":19.2},{"s":"R","d":273.9,"v":17.4},{"s":"R","d":275.0,"v":18.4},{"s":"R","d":276.0,"v":17.1},{"s":"R","d":277.0,"v":16.3},{"s":"R","d":277.8,"v":22.1},{"s":"R","d":278.9,"v":22.5},{"s":"R","d":279.9,"v":17.6},{"s":"R","d":280.7,"v":16.7},{"s":"R","d":281.8,"v":21.9},{"s":"R","d":282.8,"v":18.4},{"s":"R","d":283.9,"v":18.4},{"s":"R","d":284.9,"v":18.4},{"s":"R","d":286.0,"v":20.5},{"s":"R","d":287.0,"v":17.6},{"s":"R","d":288.0,"v":18.8},{"s":"R","d":289.1,"v":18.0},{"s":"R","d":290.1,"v":20.5},{"s":"R","d":291.4,"v":20.9},{"s":"R","d":292.4,"v":21.3},{"s":"R","d":293.6,"v":21.3},{"s":"R","d":294.3,"v":18.4},{"s":"R","d":295.5,"v":18.0},{"s":"R","d":296.6,"v":17.6},{"s":"R","d":297.4,"v":16.3},{"s":"R","d":298.4,"v":18.8},{"s":"R","d":299.5,"v":22.5},{"s":"R","d":300.7,"v":22.7},{"s":"R","d":301.6,"v":22.9},{"s":"R","d":302.6,"v":18.4},{"s":"R","d":303.1,"v":14.5},{"s":"R","d":303.9,"v":14.7},{"s":"R","d":304.9,"v":17.1},{"s":"R","d":306.0,"v":15.9},{"s":"R","d":307.0,"v":14.3},{"s":"R","d":308.0,"v":12.6},{"s":"R","d":309.1,"v":10.3},{"s":"R","d":310.1,"v":11.0},{"s":"R","d":311.1,"v":11.8},{"s":"R","d":312.0,"v":17.6},{"s":"R","d":312.7,"v":14.7},{"s":"R","d":313.7,"v":14.7},{"s":"R","d":314.8,"v":15.1},{"s":"R","d":315.8,"v":15.5},{"s":"R","d":316.8,"v":11.4},{"s":"R","d":317.9,"v":8.5},{"s":"R","d":319.2,"v":8.3},{"s":"R","d":320.3,"v":8.7},{"s":"R","d":321.3,"v":10.5},{"s":"R","d":322.6,"v":10.7},{"s":"R","d":323.4,"v":11.0},{"s":"R","d":324.1,"v":7.6},{"s":"R","d":324.9,"v":8.5},{"s":"R","d":325.7,"v":11.4},{"s":"R","d":326.7,"v":12.2},{"s":"R","d":327.8,"v":11.4},{"s":"R","d":328.6,"v":11.8},{"s":"R","d":329.3,"v":9.7},{"s":"R","d":330.1,"v":15.1},{"s":"R","d":330.9,"v":14.3},{"s":"R","d":331.9,"v":14.7},{"s":"R","d":333.0,"v":15.5},{"s":"R","d":333.8,"v":16.7},{"s":"R","d":334.5,"v":15.5},{"s":"R","d":335.3,"v":19.6},{"s":"R","d":336.3,"v":18.0},{"s":"R","d":337.3,"v":18.8},{"s":"R","d":338.2,"v":20.0},{"s":"R","d":339.0,"v":19.6},{"s":"R","d":339.7,"v":20.9},{"s":"R","d":340.8,"v":18.8},{"s":"R","d":341.8,"v":19.6},{"s":"R","d":342.9,"v":19.2},{"s":"R","d":343.9,"v":14.7},{"s":"R","d":344.6,"v":17.6},{"s":"R","d":345.7,"v":16.7},{"s":"R","d":346.5,"v":15.9},{"s":"R","d":347.3,"v":14.0},{"s":"R","d":348.4,"v":15.5},{"s":"R","d":349.4,"v":16.3},{"s":"R","d":350.5,"v":17.1},{"s":"R","d":351.5,"v":20.5},{"s":"R","d":352.5,"v":21.7},{"s":"R","d":353.6,"v":22.3},{"s":"R","d":354.6,"v":22.9},{"s":"R","d":355.3,"v":18.8},{"s":"R","d":356.2,"v":22.9},{"s":"R","d":356.9,"v":19.2},{"s":"R","d":357.9,"v":19.6},{"s":"R","d":359.0,"v":19.4},{"s":"R","d":359.8,"v":13.8},{"s":"R","d":360.9,"v":10.1},{"s":"R","d":362.1,"v":11.4},{"s":"R","d":363.1,"v":12.2},{"s":"R","d":364.4,"v":12.2}
],
"q": [
{"d":89.5,"q":2500},{"d":90.6,"q":2300},{"d":92.4,"q":2710},{"d":94.2,"q":2330},{"d":96.6,"q":2990},{"d":97.9,"q":2590},{"d":99.7,"q":1930},{"d":102.0,"q":1760},{"d":105.1,"q":1640},{"d":107.7,"q":1530},{"d":109.8,"q":1600},{"d":112.6,"q":1450},{"d":115.5,"q":1760},{"d":117.6,"q":1800},{"d":119.9,"q":1970},{"d":122.3,"q":1890},{"d":123.7,"q":2090},{"d":124.9,"q":3250},{"d":126.2,"q":4900},{"d":127.5,"q":6390},{"d":128.5,"q":6760},{"d":129.6,"q":6300},{"d":130.3,"q":5070},{"d":131.4,"q":4650},{"d":132.7,"q":4700},{"d":134.3,"q":5030},{"d":135.5,"q":5150},{"d":136.9,"q":4990},{"d":138.4,"q":4400},{"d":140.0,"q":3410},{"d":142.1,"q":2750},{"d":144.2,"q":2300},{"d":146.8,"q":2135},{"d":148.8,"q":2410},{"d":150.9,"q":2535},{"d":153.0,"q":2200},{"d":155.6,"q":1760},{"d":158.2,"q":1515},{"d":160.8,"q":1680},{"d":164.4,"q":1850},{"d":166.7,"q":2430},{"d":168.1,"q":3085},{"d":169.4,"q":4570},{"d":170.7,"q":5810},{"d":171.7,"q":6000},{"d":173.0,"q":5725},{"d":174.3,"q":4735},{"d":175.7,"q":3500},{"d":177.4,"q":2535},{"d":179.5,"q":1850},{"d":182.1,"q":1530},{"d":185.3,"q":1350},{"d":188.4,"q":1230},{"d":192.5,"q":1100},{"d":196.7,"q":1020},{"d":198.8,"q":980},{"d":200.8,"q":900},{"d":204.0,"q":790},{"d":207.1,"q":920},{"d":209.7,"q":815},{"d":213.3,"q":900},{"d":216.5,"q":840},{"d":218.0,"q":1020},{"d":219.6,"q":1430},{"d":221.1,"q":1300},{"d":223.2,"q":1060},{"d":224.8,"q":980},{"d":226.3,"q":1265},{"d":227.9,"q":1850},{"d":229.2,"q":2830},{"d":230.0,"q":3455},{"d":231.0,"q":3085},{"d":232.1,"q":2420},{"d":233.6,"q":1890},{"d":236.7,"q":1560},{"d":240.4,"q":1350},{"d":243.5,"q":1230},{"d":246.6,"q":1100},{"d":249.7,"q":1185},{"d":251.8,"q":1350},{"d":253.4,"q":1680},{"d":255.0,"q":1640},{"d":257.0,"q":1475},{"d":259.6,"q":1350},{"d":262.2,"q":1285},{"d":264.1,"q":1805},{"d":265.9,"q":1475},{"d":268.0,"q":1515},{"d":271.1,"q":1780},{"d":274.2,"q":1600},{"d":277.8,"q":1430},{"d":279.4,"q":2100},{"d":281.0,"q":2880},{"d":282.2,"q":2300},{"d":284.1,"q":1850},{"d":287.2,"q":1640},{"d":289.3,"q":1560},{"d":292.4,"q":1720},{"d":294.5,"q":1475},{"d":298.1,"q":1350},{"d":299.7,"q":2340},{"d":301.2,"q":2675},{"d":302.6,"q":1970},{"d":304.4,"q":1764}
]
},
"layer": [
{
"data": {"name": "sal"},
"mark": {"type": "line", "strokeWidth": 2.6, "invalid": "break-paths-filter-domains", "strokeJoin": "round"},
"encoding": {
"x": {"field": "d", "type": "quantitative", "scale": {"domain": [89, 365.5], "nice": false, "zero": false},
 "axis": {"values": [90,120,150,180,210,240,270,300,330,360], "grid": false, "domainColor": "#000000", "domainWidth": 3, "tickColor": "#000000", "tickWidth": 1.5, "tickSize": 6, "labelPadding": 9, "labelFontSize": 14, "labelColor": "#222222", "labelFont": "Open Sans", "title": "Giorni dell'anno", "titleFont": "Open Sans", "titleFontSize": 13, "titleFontWeight": "normal", "titleColor": "#333333", "titlePadding": 19}},
"y": {"field": "v", "type": "quantitative", "scale": {"domain": [0, 40], "reverse": true, "nice": false, "zero": false},
 "axis": {"orient": "left", "values": [0,5,10,15,20,25,30,35,40], "domain": false, "ticks": false, "labelPadding": 17, "labelFontSize": 14, "labelColor": "#222222", "labelFont": "Open Sans", "grid": true, "gridDash": [6, 6], "gridColor": "#a6a6a6", "gridWidth": 1.4, "title": "Salinità (Per mille)", "titleFont": "Open Sans", "titleFontSize": 14, "titleFontWeight": "normal", "titleColor": "#333333", "titlePadding": 35}},
"color": {"field": "s", "type": "nominal", "scale": {"domain": ["L","Y","C","T","P","R"], "range": ["#b06cba","#f0e52b","#5ac7d8","#17968f","#8a2c98","#981b20"]}, "legend": null}
}
},
{
"data": {"name": "q"},
"mark": {"type": "line", "strokeWidth": 8, "color": "#233d85", "strokeCap": "round", "strokeJoin": "round"},
"encoding": {
"x": {"field": "d", "type": "quantitative"},
"y": {"field": "q", "type": "quantitative", "scale": {"domain": [0, 8000], "nice": false, "zero": true},
 "axis": {"orient": "right", "values": [0,1000,2000,3000,4000,5000,6000,7000,8000], "format": "d", "domain": false, "ticks": false, "grid": false, "labelPadding": 20, "labelFontSize": 14, "labelColor": "#222222", "labelFont": "Open Sans", "title": "Portate del Po (M^3/S)", "titleFont": "Open Sans", "titleFontSize": 14, "titleFontWeight": "normal", "titleColor": "#333333", "titleAngle": 270, "titlePadding": 42}}
}
}
],
"resolve": {"scale": {"y": "independent"}}
}
